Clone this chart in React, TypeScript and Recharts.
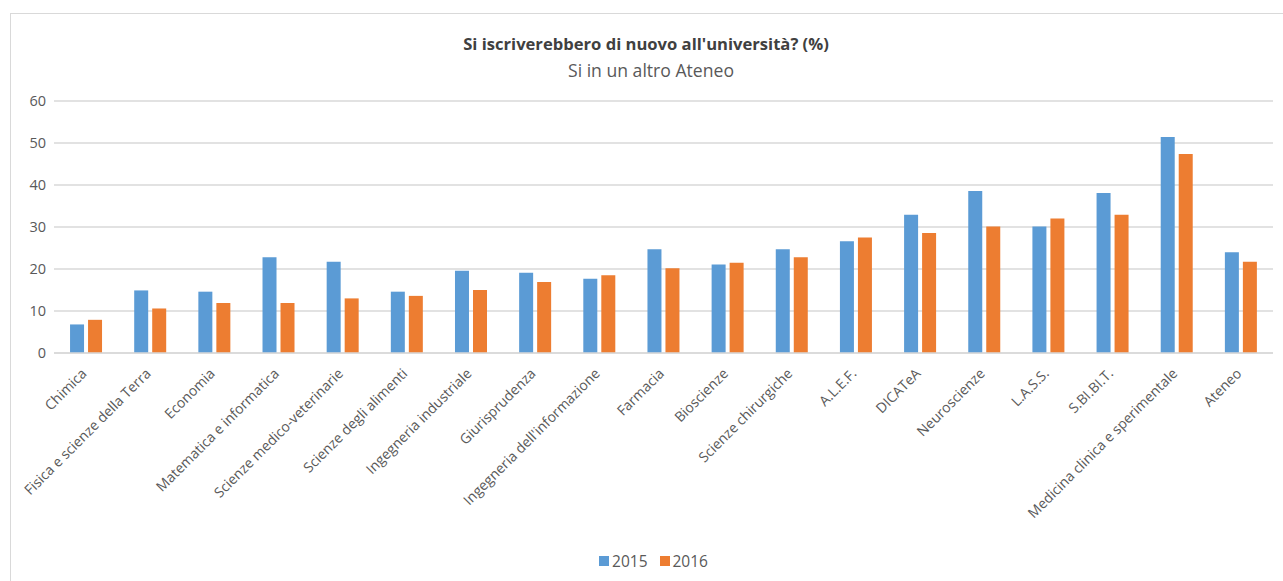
import { Bar, BarChart, CartesianGrid, Legend, XAxis, YAxis } from "recharts";

const categories = [
  "Chimica",
  "Fisica e scienze della Terra",
  "Economia",
  "Matematica e informatica",
  "Scienze medico-veterinarie",
  "Scienze degli alimenti",
  "Ingegneria industriale",
  "Giurisprudenza",
  "Ingegneria dell'informazione",
  "Farmacia",
  "Bioscienze",
  "Scienze chirurgiche",
  "A.L.E.F.",
  "DICATeA",
  "Neuroscienze",
  "L.A.S.S.",
  "S.BI.BI.T.",
  "Medicina clinica e sperimentale",
  "Ateneo",
];

const values2015 = [6.8, 14.9, 14.6, 22.8, 21.7, 14.6, 19.6, 19.1, 17.7, 24.7, 21.1, 24.7, 26.6, 32.9, 38.6, 30.1, 38.1, 51.4, 24.0];
const values2016 = [7.9, 10.6, 11.9, 11.9, 13.0, 13.6, 15.0, 16.9, 18.5, 20.2, 21.5, 22.8, 27.5, 28.6, 30.1, 32.0, 32.9, 47.4, 21.7];
const yTicks = [0, 10, 20, 30, 40, 50, 60];

const data = categories.map((name, i) => ({
  name,
  y2015: values2015[i],
  y2016: values2016[i],
}));

const FONT = "'Open Sans', sans-serif";
const GREY = "#595959";

function RotatedTick(props: any) {
  const { x, y, payload } = props;
  const ax = x - 2;
  const ay = y + 10;
  return (
    <text
      x={ax}
      y={ay}
      dy="0.35em"
      textAnchor="end"
      fill={GREY}
      fontSize={14}
      fontFamily={FONT}
      transform={`rotate(-45, ${ax}, ${ay})`}
    >
      {payload.value}
    </text>
  );
}

function LegendContent() {
  const items = [
    { label: "2015", color: "#5B9BD5" },
    { label: "2016", color: "#ED7D31" },
  ];
  return (
    <div
      style={{
        display: "flex",
        justifyContent: "center",
        gap: 12,
        marginLeft: 34,
        fontFamily: FONT,
        fontSize: 15.5,
        color: GREY,
      }}
    >
      {items.map((it) => (
        <div key={it.label} style={{ display: "flex", alignItems: "center", gap: 3, marginRight: 0 }}>
          <span style={{ width: 10, height: 10, background: it.color, display: "inline-block" }} />
          <span>{it.label}</span>
        </div>
      ))}
    </div>
  );
}

export default function App() {
  return (
    <div style={{ position: "absolute", left: 0, top: 0, width: 1283, height: 581, overflow: "hidden", background: "#fff" }}>
      <div
        style={{
          position: "absolute",
          left: 10,
          top: 13,
          width: 1300,
          height: 600,
          border: "1px solid #D9D9D9",
        }}
      />
      <div style={{ position: "absolute", left: 0, top: 30, width: 1292, textAlign: "center", fontFamily: FONT }}>
        <div style={{ fontSize: 16.6, fontWeight: 700, lineHeight: "27px", color: "#404040" }}>
          Si iscriverebbero di nuovo all'università? (%)
        </div>
        <div style={{ fontSize: 17.6, lineHeight: "27px", color: GREY, marginLeft: 10 }}>Si in un altro Ateneo</div>
      </div>
      <BarChart
        width={1283}
        height={581}
        data={data}
        margin={{ top: 101, right: 10, left: 0, bottom: 7 }}
        barCategoryGap="25%"
        barGap={4}
        style={{ position: "absolute", left: 0, top: 0 }}
      >
        <CartesianGrid vertical={false} stroke="#D9D9D9" strokeWidth={1.5} />
        <XAxis
          dataKey="name"
          interval={0}
          height={197}
          tick={<RotatedTick />}
          tickLine={false}
          axisLine={{ stroke: "#D9D9D9", strokeWidth: 1.5 }}
        />
        <YAxis
          width={54}
          domain={[0, 60]}
          ticks={yTicks}
          tick={{ fill: GREY, fontSize: 14.5, fontFamily: FONT }}
          tickLine={false}
          axisLine={false}
        />
        <Legend verticalAlign="bottom" height={24} content={<LegendContent />} />
        <Bar dataKey="y2015" name="2015" fill="#5B9BD5" isAnimationActive={false} />
        <Bar dataKey="y2016" name="2016" fill="#ED7D31" isAnimationActive={false} />
      </BarChart>
    </div>
  );
}
